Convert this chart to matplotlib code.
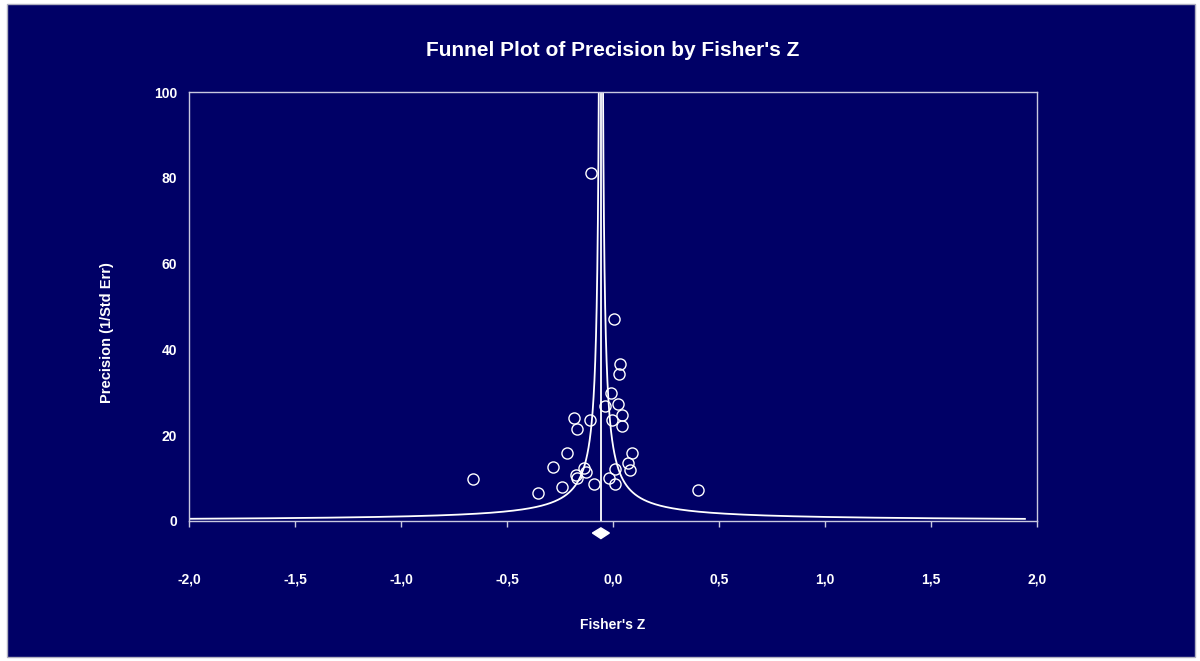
import numpy as np
import matplotlib
matplotlib.use("Agg")
from matplotlib import pyplot as plt
from matplotlib.patches import Rectangle, Polygon
from matplotlib.ticker import FuncFormatter

# studies
fisher_z = [-0.659, -0.355, -0.283, -0.242, -0.217, -0.185, -0.170, -0.175, -0.170, -0.138,
            -0.129, -0.108, -0.091, -0.039, -0.017, -0.009, -0.003, 0.011, 0.011, 0.025,
            0.041, 0.044, 0.027, 0.032, 0.090, 0.072, 0.080, 0.403, -0.105, 0.006]
precision = [9.7, 6.5, 12.6, 8.0, 15.9, 24.1, 21.4, 10.7, 9.95, 12.4,
             11.4, 23.6, 8.55, 26.8, 9.95, 29.8, 23.5, 12.2, 8.6, 27.2,
             24.7, 22.2, 34.3, 36.5, 15.8, 13.5, 12.0, 7.3, 81.1, 47.2]

mean_z = -0.057      # combined effect
limit_z = 1.0        # funnel half width times precision
x_ticks = [-2.0, -1.5, -1.0, -0.5, 0.0, 0.5, 1.0, 1.5, 2.0]
y_ticks = [0, 20, 40, 60, 80, 100]

navy = "#000066"
fg = "white"
frame = "#c8c8e0"

plt.rcParams["font.family"] = ["Liberation Sans", "DejaVu Sans"]
plt.rcParams["font.weight"] = "bold"

fig = plt.figure(figsize=(12, 6.61), dpi=100)
fig.patch.set_facecolor("white")
fig.patches.append(Rectangle((7 / 1200, 4 / 661), 1188 / 1200, 653 / 661, transform=fig.transFigure,
                             facecolor=navy, edgecolor="#b0b0c0", lw=1, zorder=-10))

ax = fig.add_axes([189 / 1200, 1 - 521 / 661, 848 / 1200, 429 / 661])
ax.set_facecolor(navy)

# funnel
p = np.linspace(0.5, 110, 4000)
ax.plot(mean_z - limit_z / p, p, color=fg, lw=1.3)
ax.plot(mean_z + limit_z / p, p, color=fg, lw=1.3)
ax.plot([mean_z, mean_z], [0, 100], color=fg, lw=1.3)

ax.plot(fisher_z, precision, "o", mfc="none", mec=fg, mew=1.0, ms=8)

# diamond for combined effect
dia = Polygon([[mean_z - 0.04, -2.8], [mean_z, -1.6], [mean_z + 0.04, -2.8], [mean_z, -4.1]],
              closed=True, facecolor=fg, edgecolor=fg, clip_on=False)
ax.add_patch(dia)

ax.set_xlim(-2, 2)
ax.set_ylim(0, 100)
ax.set_xticks(x_ticks)
ax.set_yticks(y_ticks)
ax.xaxis.set_major_formatter(FuncFormatter(lambda v, pos: ("%.1f" % v).replace(".", ",")))
ax.tick_params(axis="x", colors=frame, direction="out", length=4, width=1, pad=33, labelcolor=fg, labelsize=10)
ax.tick_params(axis="y", length=0, pad=8.5, labelcolor=fg, labelsize=10)
for lab in ax.get_xticklabels() + ax.get_yticklabels():
    lab.set_fontweight("bold")
for s in ax.spines.values():
    s.set_color(frame)
    s.set_linewidth(1)

fig.text(613 / 1200, 1 - 50 / 661, "Funnel Plot of Precision by Fisher's Z", color=fg,
         fontsize=15, fontweight="bold", ha="center", va="center")
fig.text(613 / 1200, 1 - 625 / 661, "Fisher's Z", color=fg, fontsize=10,
         fontweight="bold", ha="center", va="center")
fig.text(107 / 1200, 1 - 333 / 661, "Precision (1/Std Err)", color=fg, fontsize=10.5,
         fontweight="bold", ha="center", va="center", rotation=90)

plt.savefig("out.png", dpi=100, facecolor=fig.get_facecolor())
